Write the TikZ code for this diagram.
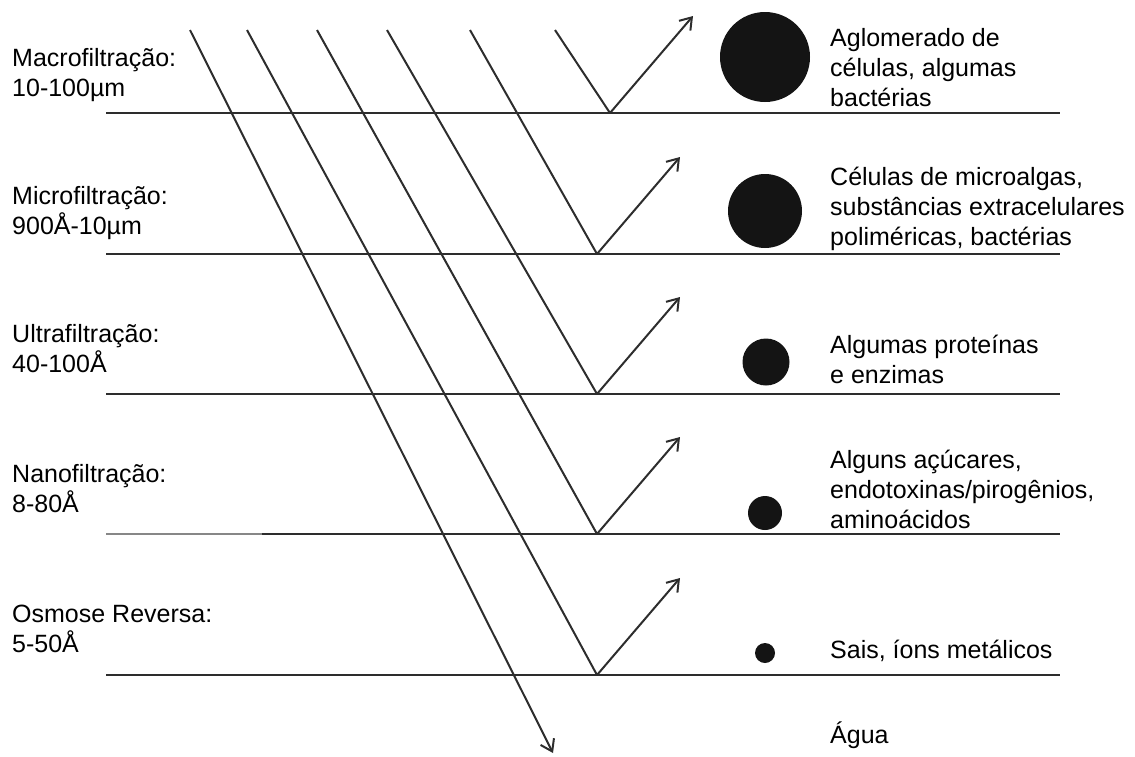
\documentclass[tikz,border=0pt]{standalone}
\usepackage{fontspec}
\setmainfont{Liberation Sans}
\usetikzlibrary{arrows.meta,calc}
\definecolor{lineGray}{RGB}{45,45,45}
\definecolor{fadeGray}{RGB}{135,135,135}

\begin{document}
\begin{tikzpicture}[x=1pt, y=-1pt,
  membrane/.style={draw=lineGray, line width=2.6pt},
  flow/.style={draw=lineGray, line width=2pt},
  reject/.style={flow, -{Straight Barb[length=11pt,width=15pt]}},
  particle/.style={circle, fill=black!92, inner sep=0pt},
  sizelabel/.style={anchor=base west, align=left, inner sep=0pt, font=\fontsize{25}{30}\selectfont}
]
  \useasboundingbox (0,0) rectangle (1135,756);

  % membranes
  \foreach \y [count=\i] in {113,254,394,534,675} {
    \coordinate (w\i) at (106,\y);
    \coordinate (e\i) at (1060,\y);
    \draw[membrane] (w\i) -- (e\i);
  }
  \coordinate (n4) at (262,534);
  \draw[membrane, draw=fadeGray] (w4) -- (n4);

  % turning points and rejected streams
  \coordinate (v1) at (610,113);
  \foreach \i in {2,...,5} { \coordinate (v\i) at (597,0 |- w\i); }
  \foreach \i in {1,...,5} { \coordinate (t\i) at ($(v\i)+(83,-97)$); }

  % feed streams
  \coordinate (s1) at (190,30);
  \coordinate (s2) at (247,30);
  \coordinate (s3) at (317,30);
  \coordinate (s4) at (387,30);
  \coordinate (s5) at (470,30);
  \coordinate (s6) at (555,30);
  \coordinate (out) at (553,753);

  \draw[reject] (s1) -- (out);
  \draw[flow] (s6) -- (v1);
  \draw[flow] (s5) -- (v2);
  \draw[flow] (s4) -- (v3);
  \draw[flow] (s3) -- (v4);
  \draw[flow] (s2) -- (v5);
  \foreach \i in {1,...,5} { \draw[reject] (v\i) -- (t\i); }

  % retained particles
  \node[particle, minimum size=90pt] (p1) at (765,57) {};
  \node[particle, minimum size=74pt] (p2) at (765,211) {};
  \node[particle, minimum size=47pt] (p3) at (766,362) {};
  \node[particle, minimum size=34pt] (p4) at (765,513) {};
  \node[particle, minimum size=20pt] (p5) at (765,653) {};

  % process names (anchored at the last baseline)
  \node[sizelabel] (macro) at (12,96) {Macrofiltração:\\10-100µm};
  \node[sizelabel] (micro) at (12,234) {Microfiltração:\\900Å-10µm};
  \node[sizelabel] (ultra) at (12,372) {Ultrafiltração:\\40-100Å};
  \node[sizelabel] (nano) at (12,512) {Nanofiltração:\\8-80Å};
  \node[sizelabel] (osmose) at (12,652) {Osmose Reversa:\\5-50Å};

  % what is held back
  \node[sizelabel] (ret1) at (830,106) {Aglomerado de\\células, algumas\\bactérias};
  \node[sizelabel] (ret2) at (830,245) {Células de microalgas,\\substâncias extracelulares\\poliméricas, bactérias};
  \node[sizelabel] (ret3) at (830,383) {Algumas proteínas\\e enzimas};
  \node[sizelabel] (ret4) at (830,528) {Alguns açúcares,\\endotoxinas/pirogênios,\\aminoácidos};
  \node[sizelabel] (ret5) at (830,658) {Sais, íons metálicos};
  \node[sizelabel] (water) at (830,743) {Água};
\end{tikzpicture}
\end{document}
